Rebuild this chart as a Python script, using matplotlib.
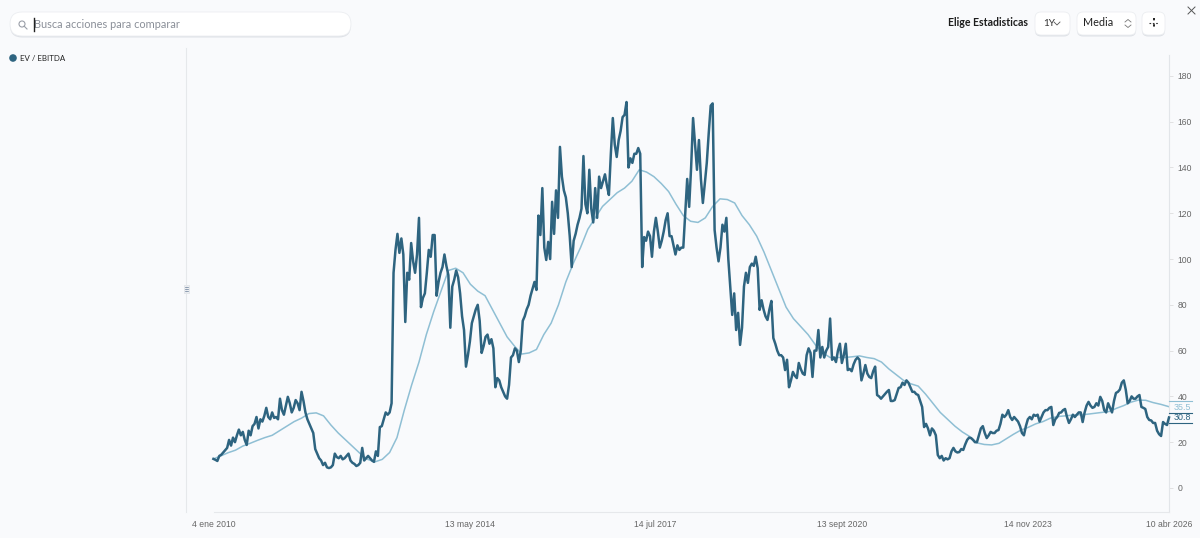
import numpy as np
import matplotlib
matplotlib.use('Agg')
import matplotlib.pyplot as plt
from matplotlib.patches import FancyBboxPatch, Rectangle, Circle

# EV / EBITDA, one list per year
ev_2010 = [12.7,12.3,11.8,14,14.5,15.5,16.5,17.5,21,18.5,22,20,23,25.5,23,24.5,21,18.8,25,23,27,28,31,26,30,29,31.5,35,31,30]
ev_2011 = [33,30.6,31,30,39,34,32,36,39.8,37,33,35,38.4,37,34,42,38,33,30,28,26,24,17,15,13,12,10,11,9,8.7]
ev_2012 = [9,10,15,13.5,13,14,12.5,13,14,15,12,11,10.5,9.6,10,11,17.5,12,13,14,13,12,11.4,16,14,26.6,27,30,33,32]
ev_2013 = [33,37,94,104,111,102.7,109,102,72.5,94,91,107,99,94,102,118,79,83,85,94,104,101,110.5,110.5,84,90,94,96.5,102,97]
ev_2014 = [93,70,88,91,95,92,85,75,69,53,58,64,72,75,78,80,73,59,62,66,67,63,65,61,44,48,47,44,42,40]
ev_2015 = [39,45,57,58,61,60,55,60,73,75,78,80,84,87,90,86.5,119,110.5,131,105,99.6,107.5,100,125,111,130,118,149,136,130]
ev_2016 = [127,120,110,96.5,108,111,115,118,122,145,124,120,139,122,116,131,118,136,131,134,137,132,128,146,161.6,150,144.6,152,156,162]
ev_2017 = [163,168.6,140,144,142,146,146,148.5,146,96.5,109.6,108,112,110,101,112,118,112,105,108,112,117,120,110,110,106,102,106,104,105]
ev_2018 = [105,120,135,122.8,140,161.6,150,139,152,135,124.5,133,142,155,167,168,112.7,105,99,105,115,112,118,100,88,75.6,85,69,76.5,62.5]
ev_2019 = [70,88,94,89.6,96.5,98,97,101,96,77.8,82,78,75,73.4,78,81.7,65.5,63,60,58,58,57,51.5,56,44,47,50.7,49,48,54.6]
ev_2020 = [52,50,49.4,58,61,59,48.5,60,60,69,57,61.6,57,60,61.6,74,56,57,55,60,63,54.6,58,63,51.5,52,51,54,56,57]
ev_2021 = [56,47,50,53.7,50,48.5,48,51,53,40.6,40,39,40,41,42,42.8,38,38,38.4,41,43.7,44,46,45,47,46,44,42,42,41]
ev_2022 = [40.6,38,35.4,26.6,28,26,23,26,25,23,14.4,13,14,12,13,12.5,13,16,17.5,16,15.5,15.7,17,16.6,19,21,22,21.8,21,20]
ev_2023 = [20,23,26,27,24,21.8,23,24.5,24,24,25,25.3,28,32,31,32,34,31,29.7,31,30,29,27,24,23,27,30,31,30,32]
ev_2024 = [31.5,32,29,31,33,34,34,35,35.4,27.5,30,31,32.8,33,34,34.5,31,28.4,30,32,31,32,33,33,28.8,33,36,37.6,36,35]
ev_2025 = [35.4,37,36,39.8,38,34,33,37,35,33,38,41.5,42,43,46,47,43,37,38,40,39,39,40,40.6,35.4,35,34.5,31,29.7,29.5]
ev_2026 = [28.4,28.4,25,23.5,22.7,28.8,28,27.5,30.8]

# one year media, 8 readings per year
ma_2010 = [12.7,14,15.4,16.5,18.3,19.5,20.8,22]
ma_2011 = [23,25,27,29,30.5,32.5,32.8,31.5]
ma_2012 = [27.5,24,21,18,15,12.5,11.4,12.5]
ma_2013 = [15.5,22,34,45,55,67,77,86]
ma_2014 = [95,96,94,89,86,84,78,72]
ma_2015 = [66,62,58.5,59,60.5,67,72,80]
ma_2016 = [90,98,105,113,118,123,126,129]
ma_2017 = [131,134,139,138,136,133,129.5,124]
ma_2018 = [119,116.5,116,118,123,126.3,126,124.5]
ma_2019 = [119,115,110,103,95,87,79,74]
ma_2020 = [70.5,67,62.5,59,57,57,57,57.3]
ma_2021 = [57.7,57,56.5,55,52,49.5,47,45.5]
ma_2022 = [44.5,41,37,33,30,27,24.5,22.5]
ma_2023 = [19.7,19,18.8,19.5,21.5,23.5,25.3,26.5]
ma_2024 = [28,29,30.5,31.2,31.5,31.8,32,32.2]
ma_2025 = [32.6,33,33.4,34.8,36,37.5,38.4,38.3]
ma_2026 = [37.3,36.5,35.5]

years = list(range(2010, 2026))
last_year_end = 2026.27  # 10 abr 2026

tick_years = [2010.01, 2014.36, 2017.53, 2020.70, 2023.87, 2026.27]
tick_labels = ['4 ene 2010', '13 may 2014', '14 jul 2017', '13 sept 2020', '14 nov 2023', '10 abr 2026']
y_ticks = [0, 20, 40, 60, 80, 100, 120, 140, 160, 180]


def build(prefix):
    xs = []
    ys = []
    for year in years:
        vals = globals()[prefix + str(year)]
        xs.extend(np.linspace(year, year + 1, len(vals), endpoint=False))
        ys.extend(vals)
    vals = globals()[prefix + '2026']
    xs.extend(np.linspace(2026, last_year_end, len(vals)))
    ys.extend(vals)
    return xs, ys


W, H = 1200, 538
BG = '#f9fafc'
DARK = '#2e6480'
LIGHT = '#8fbfd4'
GREY = '#666666'
UI_FONT = ['Lato', 'DejaVu Sans']
AX_FONT = ['Liberation Sans', 'DejaVu Sans']

fig = plt.figure(figsize=(W / 100, H / 100), dpi=100, facecolor=BG)

# chart area, pixel box 186..1169 x 48..512
ax = fig.add_axes([186 / W, 1 - 512 / H, (1169 - 186) / W, (512 - 48) / H], facecolor=BG)
ax.set_xlim(2009.533, 2026.27)
ax.set_ylim(-10.5, 192.2)

x, y = build('ev_')
mx, my = build('ma_')
ax.plot(mx, my, color=LIGHT, linewidth=1.1, zorder=2, clip_on=False)
ax.plot(x, y, color=DARK, linewidth=1.8, zorder=3, clip_on=False, solid_joinstyle='round')

ax.yaxis.tick_right()
ax.set_yticks(y_ticks)
ax.set_yticklabels([str(v) for v in y_ticks], fontsize=6.2, color=GREY, family=AX_FONT)
ax.tick_params(axis='y', length=3, width=0.6, color='#dddddd', pad=3)
ax.set_xticks(tick_years)
ax.set_xticklabels(tick_labels, fontsize=6.2, color=GREY, family=AX_FONT)
ax.tick_params(axis='x', length=0, pad=6)

for s in ['top', 'left', 'bottom']:
    ax.spines[s].set_visible(False)
ax.spines['right'].set_color('#e2e5e9')
ax.spines['right'].set_linewidth(0.8)
ax.spines['right'].set_bounds(-10.5, 189)

# overlay for the page controls, in pixels
ui = fig.add_axes([0, 0, 1, 1], facecolor='none')
ui.set_xlim(0, W)
ui.set_ylim(H, 0)
ui.axis('off')

ui.plot([186, 186], [48, 512], color='#e6e8eb', linewidth=0.8)
ui.plot([214, 1169], [512, 512], color='#e6e8eb', linewidth=0.8)


def button(x0, y0, x1, y1, r):
    ui.add_patch(FancyBboxPatch((x0, y0 + 1.5), x1 - x0, y1 - y0, boxstyle='round,pad=0,rounding_size=%d' % r,
                                fc='#dfe2e7', ec='none', zorder=1))
    ui.add_patch(FancyBboxPatch((x0, y0), x1 - x0, y1 - y0, boxstyle='round,pad=0,rounding_size=%d' % r,
                                fc='white', ec='#eceef1', linewidth=0.6, zorder=2))


button(10, 12, 351, 36, 12)
ui.add_patch(Circle((22, 24), 3, fc='none', ec='#9a9fa8', linewidth=0.8, zorder=3))
ui.plot([24.2, 27], [26.2, 29], color='#9a9fa8', linewidth=0.8, zorder=3)
ui.plot([33.5, 33.5], [18, 31], color='#222222', linewidth=1, zorder=4)
ui.text(34, 24.5, 'Busca acciones para comparar', fontsize=7.9, color='#8a8f98', family=UI_FONT, va='center', zorder=3)

ui.add_patch(Circle((13, 58), 3.8, fc=DARK, ec='none', zorder=3))
ui.text(19.5, 58.5, 'EV / EBITDA', fontsize=5.7, color='#222222', family=UI_FONT, va='center')

ui.text(948, 23, 'Elige Estadisticas', fontsize=7.6, fontweight='bold', color='#1c1c1c', family=UI_FONT, va='center')
button(1035, 12, 1070, 35, 6)
ui.text(1043, 23, '1Y', fontsize=7.2, color='#333333', family=UI_FONT, va='center', zorder=3)
ui.plot([1054, 1057, 1060], [22, 25, 22], color='#555555', linewidth=0.6, zorder=3)
button(1077, 12, 1136, 35, 6)
ui.text(1083, 23, 'Media', fontsize=7.8, color='#222222', family=UI_FONT, va='center', zorder=3)
ui.plot([1125, 1128, 1131], [22, 19.5, 22], color='#777777', linewidth=0.6, zorder=3)
ui.plot([1125, 1128, 1131], [25, 27.5, 25], color='#777777', linewidth=0.6, zorder=3)
button(1142, 12, 1165, 35, 6)
ui.plot([1149, 1159], [23, 23], color='#333333', linewidth=0.8, linestyle=(0, (1.5, 1.5)), zorder=3)
ui.plot([1154, 1154], [18, 28], color='#222222', linewidth=1.4, linestyle=(0, (1.2, 2)), zorder=3)
ui.plot([1188, 1195], [7, 14], color='#555555', linewidth=0.7)
ui.plot([1195, 1188], [7, 14], color='#555555', linewidth=0.7)

# splitter handle
ui.add_patch(Rectangle((183.5, 285), 5, 8, fc='#eef0f3', ec='#d8dbe0', linewidth=0.4))
for yy in [287, 289, 291]:
    ui.plot([184.5, 187.5], [yy, yy], color='#6a7f9a', linewidth=0.5)

# end value tags
ui.plot([1169, 1192], [401, 401], color=LIGHT, linewidth=0.8)
ui.plot([1169, 1192], [413, 413], color=DARK, linewidth=0.8)
ui.plot([1169, 1192], [423, 423], color=DARK, linewidth=0.8)
ui.text(1174, 407.5, '35.5', fontsize=6.4, color=LIGHT, family=AX_FONT, va='center')
ui.text(1174, 418, '30.8', fontsize=6.4, color=DARK, family=AX_FONT, va='center')

fig.savefig('out.png', dpi=100, facecolor=BG)
